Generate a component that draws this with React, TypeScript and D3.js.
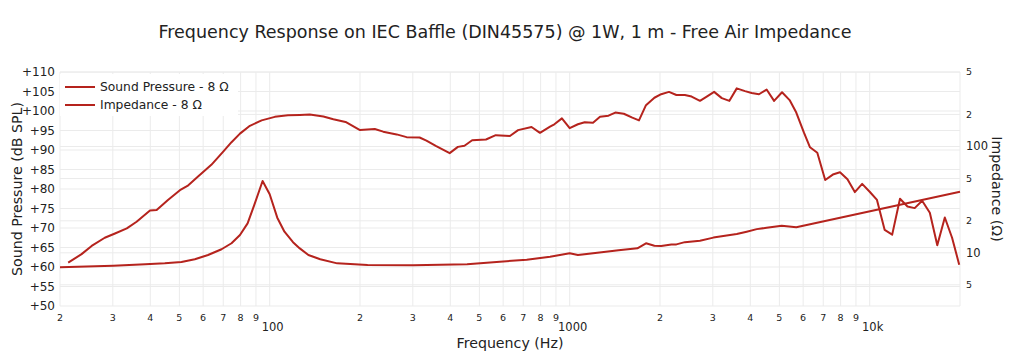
import React from "react";
import * as d3 from "d3";

const splFreq = [21.3, 23.6, 25.5, 28.2, 30.5, 33.4, 36.0, 39.9, 42.0, 45.8, 50.2, 53.2, 57.7, 63.9, 70.0, 74.6, 79.6, 85.9, 94.0, 104, 115, 126, 136, 151, 163, 179, 200, 224, 239, 265, 286, 316, 333, 359, 398, 424, 446, 473, 526, 567, 632, 673, 746, 796, 860, 889, 942, 1000, 1065, 1122, 1196, 1262, 1347, 1419, 1515, 1617, 1702, 1796, 1916, 2018, 2143, 2268, 2420, 2549, 2718, 2863, 3030, 3214, 3407, 3605, 3841, 4041, 4276, 4533, 4801, 5103, 5408, 5692, 6033, 6325, 6689, 7107, 7536, 7962, 8432, 8921, 9438, 10000, 10575, 11220, 11885, 12619, 13364, 14125, 14957, 15866, 16800, 17800, 18820, 19880];
const splValues = [61.1, 63.3, 65.4, 67.5, 68.6, 69.9, 71.6, 74.5, 74.6, 77.2, 79.7, 80.8, 83.2, 86.2, 89.6, 92.0, 94.2, 96.2, 97.6, 98.5, 98.9, 99.0, 99.1, 98.6, 97.9, 97.2, 95.1, 95.4, 94.7, 94.0, 93.3, 93.2, 92.4, 91.0, 89.2, 90.8, 91.1, 92.5, 92.7, 93.8, 93.6, 95.1, 95.9, 94.4, 96.0, 96.6, 98.1, 95.6, 96.6, 97.1, 97.0, 98.5, 98.8, 99.6, 99.3, 98.3, 97.6, 101.5, 103.4, 104.3, 104.9, 104.1, 104.1, 103.7, 102.6, 103.7, 104.9, 103.3, 102.6, 105.8, 105.1, 104.6, 104.3, 105.5, 102.6, 104.8, 102.8, 99.6, 94.5, 90.7, 89.3, 82.3, 83.7, 84.3, 82.5, 79.2, 81.3, 79.3, 77.2, 69.5, 68.3, 77.5, 75.5, 75.1, 77.0, 73.9, 65.6, 72.7, 67.5, 60.6];

const impFreq = [20, 30.1, 38.5, 44.7, 50.8, 56.3, 62.3, 69.1, 74.6, 79.6, 84.4, 88.8, 94.7, 100, 106, 112, 119.6, 126, 134.6, 147.4, 167.9, 212, 301, 455, 585, 719, 860, 1000, 1065, 1278, 1455, 1681, 1796, 1916, 2018, 2183, 2268, 2420, 2718, 3013, 3252, 3605, 3890, 4203, 4533, 5091, 5692, 20000];
const impValues = [7.31, 7.56, 7.80, 7.97, 8.19, 8.69, 9.53, 10.8, 12.3, 14.7, 18.9, 28.1, 47.3, 35.5, 21.4, 15.8, 12.6, 11.0, 9.53, 8.69, 7.96, 7.67, 7.63, 7.80, 8.25, 8.61, 9.19, 9.89, 9.53, 10.1, 10.56, 11.03, 12.28, 11.66, 11.6, 12.0, 12.0, 12.6, 13.0, 13.9, 14.4, 15.0, 15.8, 16.7, 17.2, 18.0, 17.4, 37.5];

const splTicks = [50, 55, 60, 65, 70, 75, 80, 85, 90, 95, 100, 105, 110];
const impTicks = [5, 10, 20, 50, 100, 200, 500];
const impTickLabels = ["5", "10", "2", "5", "100", "2", "5"];
const freqMinor = [20, 30, 40, 50, 60, 70, 80, 90, 200, 300, 400, 500, 600, 700, 800, 900, 2000, 3000, 4000, 5000, 6000, 7000, 8000, 9000];
const freqMinorLabels = ["2", "3", "4", "5", "6", "7", "8", "9", "2", "3", "4", "5", "6", "7", "8", "9", "2", "3", "4", "5", "6", "7", "8", "9"];
const freqMajor = [100, 1000, 10000];
const freqMajorLabels = ["100", "1000", "10k"];
const seriesNames = ["Sound Pressure - 8 Ω", "Impedance - 8 Ω"];

const W = 1011, H = 360;
const L = 60, R = 960, T = 72, B = 306;
const COLOR = "#b5231d";
const GRID = "#ebebeb";
const FONT = "Verdana, 'DejaVu Sans', sans-serif";

export default function App() {
  const x = d3.scaleLog().domain([20, 20000]).range([L, R]);
  const y = d3.scaleLinear().domain([50, 110]).range([B, T]);
  const y2 = d3.scaleLog().domain([Math.pow(10, 0.5), Math.pow(10, 2.7)]).range([B, T]);

  const splLine = d3.line<number>().x((_, i) => x(splFreq[i])).y((d) => y(d));
  const impLine = d3.line<number>().x((_, i) => x(impFreq[i])).y((d) => y2(d));

  const allFreqGrid = [...freqMinor, ...freqMajor, 20000];

  return (
    <svg width={W} height={H} style={{ position: "absolute", left: 0, top: 0, background: "#fff" }}>
      <rect x={0} y={0} width={W} height={H} fill="#fff" />
      {allFreqGrid.map((f, i) => (
        <line key={"vg" + i} x1={x(f)} x2={x(f)} y1={T} y2={B} stroke={GRID} strokeWidth={1} />
      ))}
      {splTicks.map((t, i) => (
        <line key={"hg" + i} x1={L} x2={R} y1={y(t)} y2={y(t)} stroke={GRID} strokeWidth={1} />
      ))}
      {impTicks.map((t, i) => (
        <line key={"hg2" + i} x1={L} x2={R} y1={y2(t)} y2={y2(t)} stroke={GRID} strokeWidth={1} />
      ))}

      <path d={impLine(impValues) || ""} fill="none" stroke={COLOR} strokeWidth={2} strokeLinejoin="round" />
      <path d={splLine(splValues) || ""} fill="none" stroke={COLOR} strokeWidth={2} strokeLinejoin="round" />

      {splTicks.map((t, i) => (
        <text key={"lt" + i} x={55} y={y(t)} dy="0.35em" textAnchor="end" fontFamily={FONT} fontSize={12} fill="#222">
          {"+" + t}
        </text>
      ))}
      {impTicks.map((t, i) => {
        const big = impTickLabels[i].length > 1;
        return (
          <text key={"rt" + i} x={966} y={y2(t)} dy="0.35em" textAnchor="start" fontFamily={FONT} fontSize={big ? 11.5 : 9.5} fill="#222">
            {impTickLabels[i]}
          </text>
        );
      })}
      {freqMinor.map((f, i) => (
        <text key={"bm" + i} x={x(f)} y={318} dy="0.35em" textAnchor="middle" fontFamily={FONT} fontSize={9.5} fill="#222">
          {freqMinorLabels[i]}
        </text>
      ))}
      {freqMajor.map((f, i) => (
        <text key={"bM" + i} x={x(f) + 3} y={327} dy="0.35em" textAnchor="middle" fontFamily={FONT} fontSize={11.5} fill="#222">
          {freqMajorLabels[i]}
        </text>
      ))}

      <text x={510} y={343} dy="0.35em" textAnchor="middle" fontFamily={FONT} fontSize={14.2} fill="#222">Frequency (Hz)</text>
      <text transform={`translate(17,${(T + B) / 2}) rotate(-90)`} dy="0.35em" textAnchor="middle" fontFamily={FONT} fontSize={14.2} fill="#222">Sound Pressure (dB SPL)</text>
      <text transform={`translate(997,${(T + B) / 2}) rotate(90)`} dy="0.35em" textAnchor="middle" fontFamily={FONT} fontSize={14.2} fill="#222">Impedance (Ω)</text>

      <text x={505} y={32} dy="0.35em" textAnchor="middle" fontFamily={FONT} fontSize={17.5} fill="#222">
        Frequency Response on IEC Baffle (DIN45575) @ 1W, 1 m - Free Air Impedance
      </text>

      <rect x={60} y={74} width={178} height={42} fill="#fff" />
      {seriesNames.map((n, i) => (
        <g key={"lg" + i}>
          <line x1={65} x2={95} y1={87 + i * 18} y2={87 + i * 18} stroke={COLOR} strokeWidth={2} />
          <text x={100} y={87 + i * 18} dy="0.35em" fontFamily={FONT} fontSize={12.3} fill="#222">{n}</text>
        </g>
      ))}
    </svg>
  );
}
